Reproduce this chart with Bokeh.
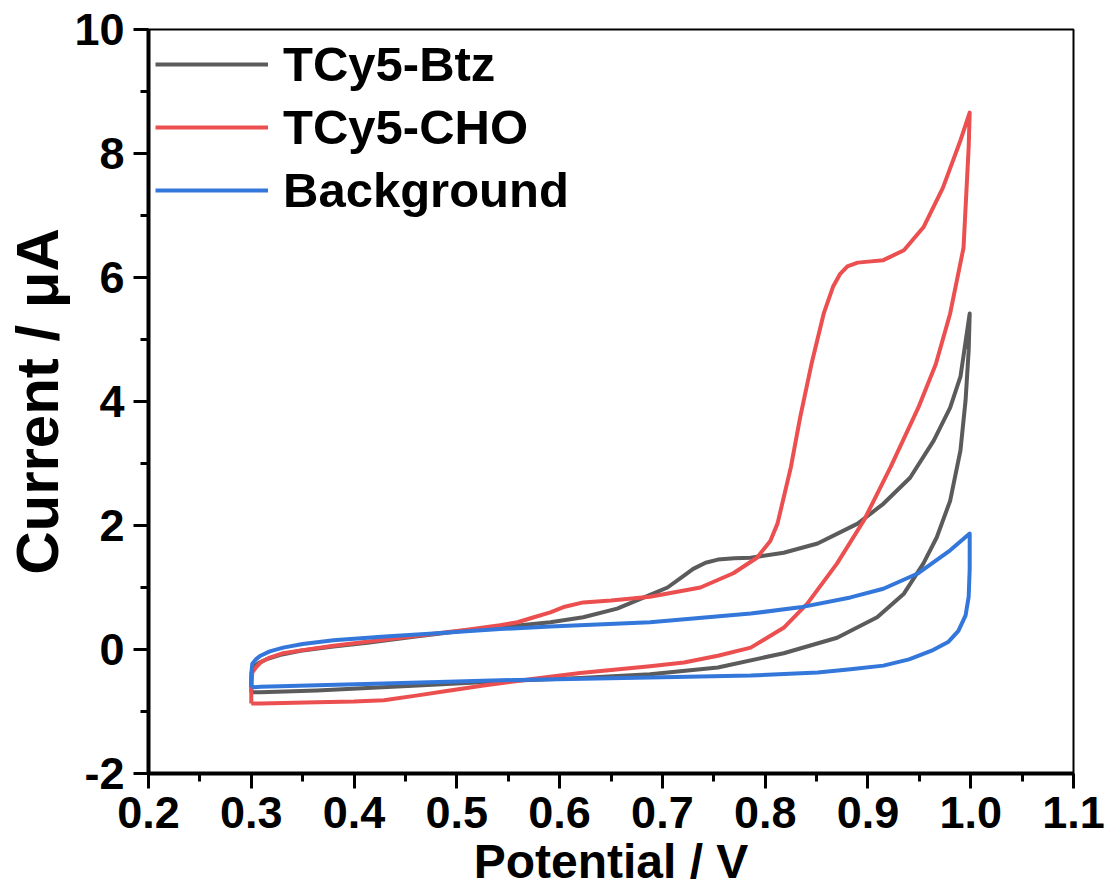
from bokeh.plotting import figure
from bokeh.models import FixedTicker, PrintfTickFormatter
from bokeh.embed import file_html
from bokeh.resources import INLINE

# Cyclic voltammograms: forward scan 0.3 -> 1.0 V, then reverse back to 0.3 V
btz_v = [0.300, 0.300, 0.301, 0.308, 0.316, 0.330, 0.348, 0.380, 0.413, 0.460, 0.510,
         0.550, 0.591, 0.623, 0.656, 0.688, 0.705, 0.720, 0.730, 0.742, 0.754, 0.770,
         0.786, 0.818, 0.851, 0.890, 0.915, 0.941, 0.964, 0.980, 0.990, 0.999,
         0.998, 0.995, 0.990, 0.980, 0.967, 0.954, 0.935, 0.909, 0.870, 0.818, 0.754,
         0.688, 0.620, 0.559, 0.462, 0.364, 0.309, 0.300]
btz_i = [-0.69, -0.45, -0.29, -0.21, -0.15, -0.08, -0.02, 0.05, 0.11, 0.21, 0.31,
         0.37, 0.44, 0.52, 0.66, 0.88, 1.00, 1.18, 1.30, 1.40, 1.45, 1.47,
         1.48, 1.56, 1.71, 2.03, 2.35, 2.77, 3.37, 3.90, 4.40, 5.42,
         4.82, 4.02, 3.21, 2.40, 1.81, 1.39, 0.90, 0.52, 0.19, -0.06, -0.29,
         -0.40, -0.46, -0.50, -0.58, -0.66, -0.69, -0.69]

cho_v = [0.300, 0.300, 0.301, 0.305, 0.309, 0.318, 0.331, 0.350, 0.380, 0.445, 0.510,
         0.542, 0.559, 0.575, 0.591, 0.605, 0.623, 0.650, 0.688, 0.737, 0.769, 0.792,
         0.805, 0.812, 0.825, 0.834, 0.845, 0.857, 0.866, 0.873, 0.880, 0.890, 0.903,
         0.915, 0.935, 0.954, 0.973, 0.990, 0.999,
         0.998, 0.993, 0.980, 0.966, 0.949, 0.922, 0.896, 0.870, 0.841, 0.818, 0.786,
         0.754, 0.721, 0.688, 0.620, 0.575, 0.526, 0.490, 0.462, 0.429, 0.400, 0.364,
         0.309, 0.300]
cho_i = [-0.87, -0.60, -0.37, -0.28, -0.21, -0.13, -0.06, -0.01, 0.06, 0.19, 0.32,
         0.39, 0.44, 0.52, 0.60, 0.69, 0.76, 0.79, 0.85, 1.00, 1.23, 1.48,
         1.75, 2.03, 2.94, 3.74, 4.60, 5.42, 5.85, 6.06, 6.18, 6.24, 6.26,
         6.28, 6.44, 6.81, 7.45, 8.21, 8.66,
         8.10, 6.48, 5.42, 4.60, 3.90, 2.94, 2.08, 1.39, 0.74, 0.35, 0.03,
         -0.10, -0.21, -0.27, -0.38, -0.47, -0.58, -0.67, -0.74, -0.82, -0.84, -0.85,
         -0.87, -0.87]

bg_v = [0.300, 0.300, 0.301, 0.305, 0.309, 0.318, 0.331, 0.350, 0.380, 0.430, 0.477,
        0.542, 0.591, 0.688, 0.786, 0.834, 0.883, 0.915, 0.949, 0.980, 0.999,
        0.999, 0.998, 0.995, 0.988, 0.978, 0.962, 0.940, 0.915, 0.883, 0.851, 0.786,
        0.688, 0.559, 0.429, 0.309, 0.300]
bg_i = [-0.61, -0.40, -0.23, -0.15, -0.10, -0.03, 0.03, 0.09, 0.15, 0.21, 0.26,
        0.33, 0.37, 0.44, 0.58, 0.68, 0.84, 0.98, 1.23, 1.60, 1.87,
        1.30, 0.85, 0.55, 0.30, 0.12, -0.02, -0.16, -0.26, -0.32, -0.37, -0.42,
        -0.45, -0.49, -0.55, -0.60, -0.61]

series_names = ["TCy5-Btz", "TCy5-CHO", "Background"]
series_colors = ["#5b5b5b", "#ec4f4f", "#3377db"]

x_ticks = [0.2, 0.3, 0.4, 0.5, 0.6, 0.7, 0.8, 0.9, 1.0, 1.1]
x_minor = [0.25, 0.35, 0.45, 0.55, 0.65, 0.75, 0.85, 0.95, 1.05]
y_ticks = [-2, 0, 2, 4, 6, 8, 10]
y_minor = [-1, 1, 3, 5, 7, 9]

FONT = "Liberation Sans"

p = figure(width=1105, height=890, x_range=(0.2, 1.1), y_range=(-2, 10),
           output_backend="svg", toolbar_location=None,
           min_border_left=148, min_border_right=32, min_border_top=29,
           min_border_bottom=117)

p.xgrid.visible = False
p.ygrid.visible = False
p.outline_line_color = "black"
p.outline_line_width = 2
p.background_fill_color = "white"
p.border_fill_color = "white"

for xs, ys, name, color in zip([btz_v, cho_v, bg_v], [btz_i, cho_i, bg_i],
                               series_names, series_colors):
    p.line(xs, ys, line_color=color, line_width=4, line_join="round",
           legend_label=name)

p.xaxis.ticker = FixedTicker(ticks=x_ticks, minor_ticks=x_minor)
p.xaxis.formatter = PrintfTickFormatter(format="%.1f")
p.yaxis.ticker = FixedTicker(ticks=y_ticks, minor_ticks=y_minor)
p.yaxis.major_label_overrides = {t: str(t) for t in y_ticks}

for ax in (p.xaxis[0], p.yaxis[0]):
    ax.axis_line_width = 4
    ax.axis_line_color = "black"
    ax.major_tick_line_width = 3
    ax.major_tick_line_color = "black"
    ax.minor_tick_line_width = 3
    ax.minor_tick_line_color = "black"
    ax.major_tick_out = 15
    ax.major_tick_in = 0
    ax.minor_tick_out = 8
    ax.minor_tick_in = 0
    ax.major_label_text_font = FONT
    ax.major_label_text_font_style = "bold"
    ax.major_label_text_font_size = "45px"
    ax.major_label_text_color = "black"
    ax.axis_label_text_font = FONT
    ax.axis_label_text_font_style = "bold"
    ax.axis_label_text_color = "black"

p.xaxis.major_label_standoff = 8
p.yaxis.major_label_standoff = 9

p.xaxis.axis_label = "Potential / V"
p.xaxis.axis_label_text_font_size = "48px"
p.xaxis.axis_label_standoff = 4

p.yaxis.axis_label = "Current / \u03bcA"
p.yaxis.axis_label_text_font_size = "60px"
p.yaxis.axis_label_standoff = 0

lg = p.legend[0]
lg.location = "top_left"
lg.border_line_color = None
lg.background_fill_alpha = 0
lg.margin = 7
lg.padding = 0
lg.spacing = 7
lg.glyph_width = 113
lg.glyph_height = 40
lg.label_standoff = 15
lg.label_text_font = FONT
lg.label_text_font_style = "bold"
lg.label_text_font_size = "49px"
lg.label_text_color = "black"

open("out.html", "w").write(file_html(p, INLINE))
